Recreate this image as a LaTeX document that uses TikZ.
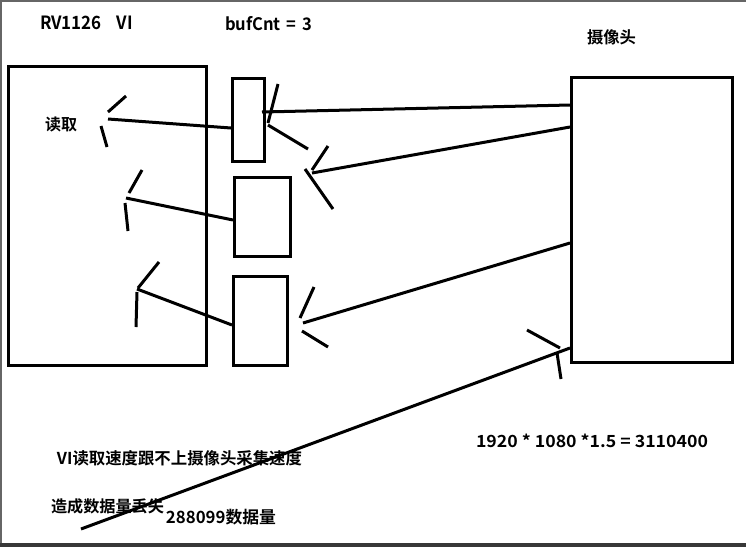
\documentclass[tikz,border=0pt]{standalone}
\usepackage{fontspec}
\setmainfont{Noto Sans CJK SC}[BoldFont={Noto Sans CJK SC Bold}]
\usepackage{graphicx}
\newcommand{\fitw}[2]{\resizebox{#1}{!}{#2}}
\newcommand{\fitwh}[3]{\resizebox{#1}{#2}{#3}}
\begin{document}
\begin{tikzpicture}[x=1pt,y=-1pt,
  box/.style={draw,line width=3pt,inner sep=0pt,minimum width=#1},
  pen/.style={line width=3pt},
  txt/.style={inner sep=0pt,font=\bfseries\fontsize{16pt}{18pt}\selectfont}]
% frame
\fill[white] (0,0) rectangle (746,547);
\useasboundingbox (0,0) rectangle (746,547);
\fill[black!78] (0,543) rectangle (746,547);
\draw[black!60,line width=1.5pt] (0.75,543) -- (0.75,0.75) -- (746,0.75);
% boxes
\node[box=198pt,minimum height=299pt] (vi) at (107.5,216) {};
\node[box=32pt,minimum height=83pt] (b1) at (248.5,120) {};
\node[box=56pt,minimum height=79pt] (b2) at (262.5,217) {};
\node[box=54pt,minimum height=89pt] (b3) at (260.5,321) {};
\node[box=161pt,minimum height=285pt] (cam) at (652,220) {};
% texts
\node[txt] (t1) at (86.5,23) {\fitwh{93pt}{13.5pt}{RV1126\hspace{0.9em}VI}};
\node[txt] (t2) at (268.5,24) {\fitwh{87pt}{14pt}{bufCnt\hspace{0.35em}=\hspace{0.35em}3}};
\node[txt] (t3) at (61,124) {\fitw{32pt}{读取}};
\node[txt] (t4) at (611.5,37) {\fitw{49pt}{摄像头}};
\node[txt] (t5) at (592,441) {\fitwh{232pt}{13.5pt}{1920 * 1080 *1.5 = 3110400}};
\node[txt] (t6) at (179.5,458) {\fitw{245pt}{VI读取速度跟不上摄像头采集速度}};
\node[txt] (t7) at (107.5,506) {\fitw{113pt}{造成数据量丢失}};
\node[txt] (t8) at (221,517) {\fitw{110pt}{288099数据量}};
% free ends
\coordinate (e1) at (262,112);
\coordinate (e2) at (312,173);
\coordinate (e3) at (303,323);
\coordinate (s4) at (81,529);
\coordinate (eA) at (108,119);
\coordinate (eB) at (126,198);
\coordinate (eC) at (137,289);
% camera -> buffers
\draw[pen] (cam.west |- 0,105) -- (e1);
\draw[pen] (278,84) -- (268,123);
\draw[pen] (268,125) -- (308,149);
\draw[pen] (cam.west |- 0,127) -- (e2);
\draw[pen] (328,146) -- (312,170);
\draw[pen] (305,169) -- (333,209);
\draw[pen] (cam.west |- 0,243) -- (e3);
\draw[pen] (314,287) -- (300,318);
\draw[pen] (302,331) -- (328,347);
% long line to camera
\draw[pen] (s4) -- (cam.west |- 0,348);
\draw[pen] (527,330) -- (560,348);
\draw[pen] (557,353) -- (561,379);
% buffers -> VI
\draw[pen] (b1.west |- 0,128) -- (eA);
\draw[pen] (108,112) -- (126,96);
\draw[pen] (101,126) -- (107,147);
\draw[pen] (b2.west |- 0,220) -- (eB);
\draw[pen] (129,193) -- (142,170);
\draw[pen] (125,203) -- (128,231);
\draw[pen] (b3.west |- 0,325) -- (eC);
\draw[pen] (138,288) -- (159,262);
\draw[pen] (137,292) -- (136,327);
\end{tikzpicture}
\end{document}
